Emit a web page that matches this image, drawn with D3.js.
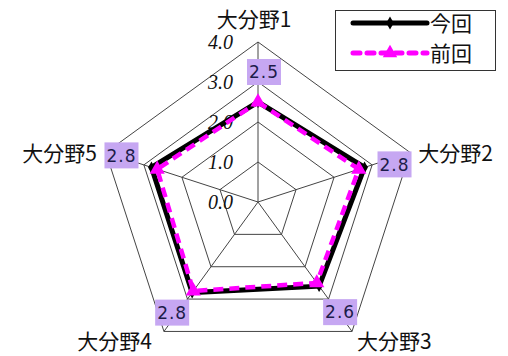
<!DOCTYPE html>
<html>
<head>
<meta charset="utf-8">
<script src="https://cdn.jsdelivr.net/npm/d3@7"></script>
<style>
  html, body { margin: 0; padding: 0; background: #fff; }
  svg { display: block; }
</style>
</head>
<body>
<div id="chart"></div>
<script>
// data
const categories = ["大分野1", "大分野2", "大分野3", "大分野4", "大分野5"];
const currentValues = [2.5, 2.8, 2.6, 2.8, 2.8];   // 今回
const previousValues = [2.5, 2.65, 2.5, 2.75, 2.65];  // 前回
const ticks = [0, 1, 2, 3, 4];
const seriesNames = ["今回", "前回"];

const width = 508, height = 356;
const cx = 258, cy = 202;
const jp = "'Noto Sans CJK JP', 'Noto Sans', sans-serif";

const r = d3.scaleLinear().domain([0, 4]).range([0, 160]);
const angle = d3.scalePoint().domain(categories).range([0, 2 * Math.PI * 4 / 5]);

const svg = d3.select("#chart").append("svg")
  .attr("width", width)
  .attr("height", height);

const g = svg.append("g").attr("transform", `translate(${cx},${cy})`);

function pt(cat, v) {
  const a = angle(cat);
  return [r(v) * Math.sin(a), -r(v) * Math.cos(a)];
}

// grid pentagons
g.append("g")
  .selectAll("path")
  .data(ticks.filter(t => t > 0))
  .join("path")
  .attr("d", t => d3.line()(categories.map(c => pt(c, t))) + "Z")
  .attr("fill", "none")
  .attr("stroke", "#444")
  .attr("stroke-width", 1);

// spokes
g.append("g")
  .selectAll("line")
  .data(categories)
  .join("line")
  .attr("x1", 0).attr("y1", 0)
  .attr("x2", c => pt(c, 4)[0])
  .attr("y2", c => pt(c, 4)[1])
  .attr("stroke", "#444")
  .attr("stroke-width", 1);

// tick labels
g.append("g")
  .selectAll("text")
  .data(ticks)
  .join("text")
  .attr("x", -25)
  .attr("y", t => -r(t))
  .attr("dy", "0.35em")
  .attr("text-anchor", "end")
  .attr("font-family", "'Liberation Serif', serif")
  .attr("font-style", "italic")
  .attr("font-size", 20)
  .attr("fill", "#111")
  .text(t => d3.format(".1f")(t));

// category labels
const catPos = [
  { dx: -4, dy: -15, anchor: "middle" },
  { dx: 8, dy: 8, anchor: "start" },
  { dx: 5, dy: 18, anchor: "start" },
  { dx: -12, dy: 18, anchor: "end" },
  { dx: -9, dy: 8, anchor: "end" }
];
g.append("g")
  .selectAll("text")
  .data(categories)
  .join("text")
  .attr("x", (c, i) => pt(c, 4)[0] + catPos[i].dx)
  .attr("y", (c, i) => pt(c, 4)[1] + catPos[i].dy)
  .attr("text-anchor", (c, i) => catPos[i].anchor)
  .attr("font-family", jp)
  .attr("font-size", 21)
  .attr("fill", "#111")
  .text(c => c);

const line = d3.line().curve(d3.curveLinearClosed);

// 今回
g.append("path")
  .attr("d", line(categories.map((c, i) => pt(c, currentValues[i]))))
  .attr("fill", "none")
  .attr("stroke", "#000")
  .attr("stroke-width", 5)
  .attr("stroke-linejoin", "miter");

g.append("g")
  .selectAll("path")
  .data(categories)
  .join("path")
  .attr("transform", (c, i) => `translate(${pt(c, currentValues[i])})`)
  .attr("d", d3.symbol(d3.symbolDiamond, 40))
  .attr("fill", "#000");

// 前回
g.append("path")
  .attr("d", line(categories.map((c, i) => pt(c, previousValues[i]))))
  .attr("fill", "none")
  .attr("stroke", "#ff00ff")
  .attr("stroke-width", 4.5)
  .attr("stroke-dasharray", "10,6");

g.append("g")
  .selectAll("path")
  .data(categories)
  .join("path")
  .attr("transform", (c, i) => `translate(${pt(c, previousValues[i])})`)
  .attr("d", d3.symbol(d3.symbolTriangle, 100))
  .attr("fill", "#ff00ff");

// data labels (今回)
const labelOff = [[6, -30], [30, -3], [21, 26], [-20, 20], [-30, -12]];
const lab = g.append("g")
  .selectAll("g")
  .data(categories)
  .join("g")
  .attr("transform", (c, i) => {
    const p = pt(c, currentValues[i]);
    return `translate(${p[0] + labelOff[i][0]},${p[1] + labelOff[i][1]})`;
  });
lab.append("rect")
  .attr("x", -17).attr("y", -13)
  .attr("width", 34).attr("height", 26)
  .attr("fill", "#c6a7f2");
lab.append("text")
  .attr("text-anchor", "middle")
  .attr("dy", "0.36em")
  .attr("font-family", "'DejaVu Sans', sans-serif")
  .attr("font-size", 17)
  .attr("letter-spacing", 1)
  .attr("fill", "#1c1c4a")
  .text((c, i) => d3.format(".1f")(currentValues[i]));

// legend
const lg = svg.append("g");
lg.append("rect")
  .attr("x", 335.5).attr("y", 10.5)
  .attr("width", 160).attr("height", 60)
  .attr("fill", "#fff")
  .attr("stroke", "#333")
  .attr("stroke-width", 1);

const legendRows = lg.selectAll("g")
  .data(seriesNames)
  .join("g")
  .attr("transform", (d, i) => `translate(0,${23 + i * 30})`);

legendRows.append("line")
  .attr("x1", 353).attr("x2", 427)
  .attr("y1", 0).attr("y2", 0)
  .attr("stroke", (d, i) => i === 0 ? "#000" : "#ff00ff")
  .attr("stroke-width", 5)
  .attr("stroke-linecap", "round")
  .attr("stroke-dasharray", (d, i) => i === 0 ? null : "7,7");

legendRows.append("path")
  .attr("transform", "translate(390,0)")
  .attr("d", (d, i) => i === 0 ? d3.symbol(d3.symbolDiamond, 50)() : d3.symbol(d3.symbolTriangle, 90)())
  .attr("fill", (d, i) => i === 0 ? "#000" : "#ff00ff");

legendRows.append("text")
  .attr("x", 430)
  .attr("dy", "0.36em")
  .attr("font-family", jp)
  .attr("font-size", 21)
  .attr("fill", "#111")
  .text(d => d);
</script>
</body>
</html>
